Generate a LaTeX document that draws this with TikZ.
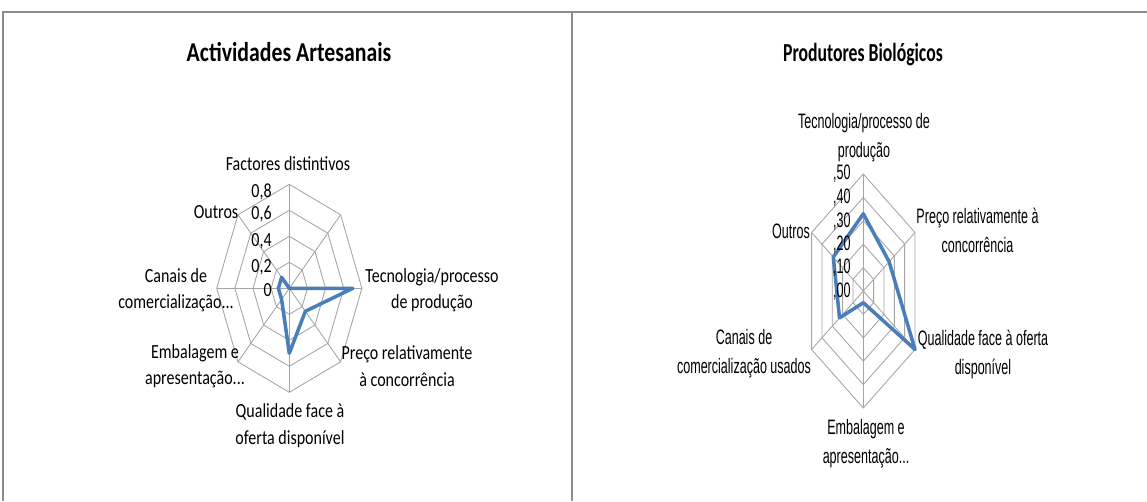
\documentclass[tikz,border=0pt]{standalone}
\usepackage{fontspec}
\setmainfont{Carlito}
\newfontfamily\artfont[FakeStretch=0.8]{Carlito}
\newfontfamily\biofont[FakeStretch=0.6]{Liberation Sans}
\newfontfamily\biotitlefont[FakeStretch=0.68]{Carlito}
\definecolor{serie}{RGB}{74,126,187}
\definecolor{grelha}{RGB}{165,165,165}
\definecolor{moldura}{RGB}{140,140,140}

\begin{document}
\begin{tikzpicture}[x=0.02cm, y=-0.02cm]
\tikzstyle{gridline}=[draw=grelha, line width=0.5pt]
\tikzstyle{dataline}=[draw=serie, line width=2pt, line join=round]
\tikzstyle{artlabel}=[font=\artfont\fontsize{11.4}{15}\selectfont, align=center, inner sep=0pt]
\tikzstyle{biolabel}=[font=\biofont\fontsize{11.9}{16.5}\selectfont, align=center, inner sep=0pt]

\useasboundingbox (0,0) rectangle (1147,501);

% moldura
\draw[moldura, line width=1pt] (3,501) -- (3,12) -- (1147,12);
\draw[moldura, line width=0.8pt] (572,12) -- (572,501);

% Actividades Artesanais
\node[font=\artfont\bfseries\fontsize{15.5}{18}\selectfont] (art-title) at (289,52) {Actividades Artesanais};

\begin{scope}[shift={(289.3,288.3)}, x=1.815cm, y=2.6cm]
\foreach \r in {0.2,0.4,0.6,0.8}
  \draw[gridline] (90:\r) -- (45:\r) -- (0:\r) -- (-45:\r) -- (-90:\r) -- (-135:\r) -- (180:\r) -- (135:\r) -- cycle;
\foreach \a in {0,45,...,315}
  \draw[gridline] (0,0) -- (\a:0.8);
\draw[dataline] (90:0) -- (45:0) -- (0:0.7) -- (-45:0.25) -- (-90:0.5) -- (-135:0.12) -- (180:0.12) -- (135:0.12) -- cycle;
\end{scope}

\node[artlabel, anchor=east] (art-v0) at (272,290) {0};
\node[artlabel, anchor=east] (art-v2) at (272,267) {0,2};
\node[artlabel, anchor=east] (art-v4) at (272,241) {0,4};
\node[artlabel, anchor=east] (art-v6) at (272,214) {0,6};
\node[artlabel, anchor=east] (art-v8) at (272,192) {0,8};

\node[artlabel] (art-fac) at (288,164) {Factores distintivos};
\node[artlabel] (art-tec) at (432,290) {Tecnologia/processo\\de produção};
\node[artlabel] (art-pre) at (407,366) {Preço relativamente\\à concorrência};
\node[artlabel] (art-qua) at (290,425.5) {Qualidade face à\\oferta disponível};
\node[artlabel] (art-emb) at (195,366) {Embalagem e\\apresentação...};
\node[artlabel] (art-can) at (176,290) {Canais de\\comercialização...};
\node[artlabel] (art-out) at (216,212) {Outros};

% Produtores Biologicos
\node[font=\biotitlefont\bfseries\fontsize{14.8}{18}\selectfont] (bio-title) at (863,55) {Produtores Biológicos};

\begin{scope}[shift={(863.3,291)}, x=2.388cm, y=4.68cm]
\foreach \r in {0.1,0.2,0.3,0.4,0.5}
  \draw[gridline] (90:\r) -- (30:\r) -- (-30:\r) -- (-90:\r) -- (-150:\r) -- (150:\r) -- cycle;
\foreach \a in {30,90,...,330}
  \draw[gridline] (0,0) -- (\a:0.5);
\draw[dataline] (90:0.33) -- (30:0.25) -- (-30:0.5) -- (-90:0.05) -- (-150:0.23) -- (150:0.29) -- cycle;
\end{scope}

\node[biolabel, anchor=east] (bio-v0) at (851,292) {,00};
\node[biolabel, anchor=east] (bio-v1) at (851,268) {,10};
\node[biolabel, anchor=east] (bio-v2) at (851,245) {,20};
\node[biolabel, anchor=east] (bio-v3) at (851,222) {,30};
\node[biolabel, anchor=east] (bio-v4) at (851,198) {,40};
\node[biolabel, anchor=east] (bio-v5) at (851,174) {,50};

\node[biolabel] (bio-tec) at (864,137.5) {Tecnologia/processo de\\produção};
\node[biolabel] (bio-pre) at (977.5,230) {Preço relativamente à\\concorrência};
\node[biolabel] (bio-qua) at (983,354) {Qualidade face à oferta\\disponível};
\node[biolabel] (bio-emb) at (866,444) {Embalagem e\\apresentação...};
\node[biolabel] (bio-can) at (744,354) {Canais de\\comercialização usados};
\node[biolabel] (bio-out) at (791,231) {Outros};

\end{tikzpicture}
\end{document}
